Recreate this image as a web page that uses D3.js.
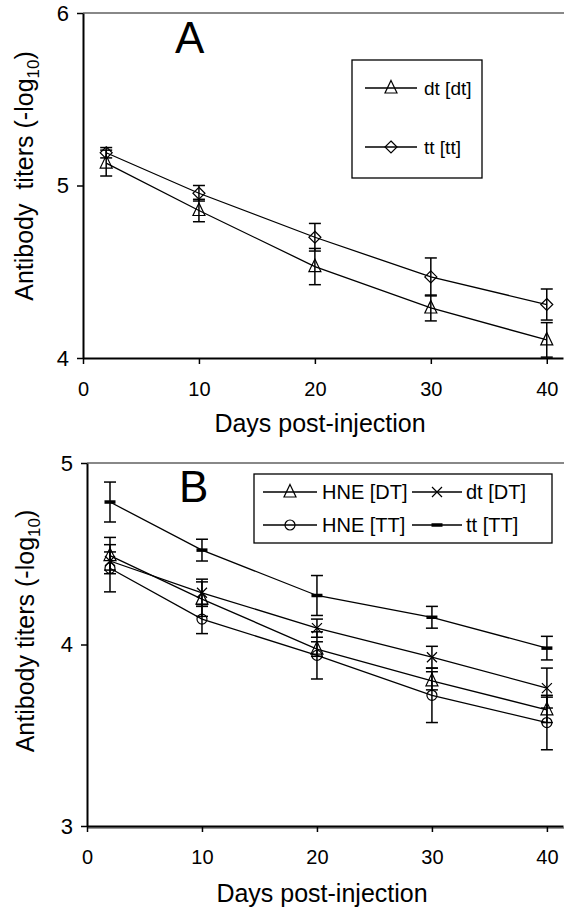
<!DOCTYPE html>
<html>
<head>
<meta charset="utf-8">
<script src="https://cdn.jsdelivr.net/npm/d3@7"></script>
<style>
  html, body { margin: 0; padding: 0; background: #fff; }
  svg { display: block; font-family: "Liberation Sans", Arial, sans-serif; }
</style>
</head>
<body>
<svg id="chart" width="564" height="914"></svg>
<script>
// Sampling days after injection
const days = [2, 10, 20, 30, 40];
const xTicks = [0, 10, 20, 30, 40];

// Panel A: antibody titers (-log10), mean and error
const dtDt = [5.13, 4.855, 4.53, 4.29, 4.105];
const dtDtErr = [0.075, 0.065, 0.105, 0.075, 0.10];
const ttTt = [5.19, 4.955, 4.70, 4.47, 4.31];
const ttTtErr = [0.03, 0.045, 0.08, 0.11, 0.09];
const yTicksA = [4, 5, 6];

// Panel B
const hneDT = [4.49, 4.25, 3.975, 3.80, 3.64];
const hneDTErr = [0.10, 0.095, 0.04, 0.05, 0.07];
const dtDT = [4.46, 4.285, 4.09, 3.93, 3.76];
const dtDTErr = [0.05, 0.075, 0.05, 0.06, 0.11];
const hneTT = [4.42, 4.14, 3.94, 3.72, 3.57];
const hneTTErr = [0.13, 0.08, 0.13, 0.15, 0.15];
const ttTT = [4.785, 4.52, 4.27, 4.15, 3.98];
const ttTTErr = [0.11, 0.06, 0.11, 0.06, 0.065];
const yTicksB = [3, 4, 5];

const svg = d3.select("#chart");

// Marker shapes, drawn around (0,0)
function drawMarker(g, type) {
  const s = g.append("g");
  if (type === "triangle") {
    s.append("path").attr("d", "M0,-7.5L6,5L-6,5Z")
      .attr("fill", "none").attr("stroke", "#000").attr("stroke-width", 1.2);
  } else if (type === "diamond") {
    s.append("path").attr("d", "M0,-6L6,0L0,6L-6,0Z")
      .attr("fill", "none").attr("stroke", "#000").attr("stroke-width", 1.2);
  } else if (type === "circle") {
    s.append("circle").attr("r", 5)
      .attr("fill", "none").attr("stroke", "#000").attr("stroke-width", 1.2);
  } else if (type === "cross") {
    s.append("path").attr("d", "M-5,-5L5,5M-5,5L5,-5")
      .attr("fill", "none").attr("stroke", "#000").attr("stroke-width", 1.2);
  } else if (type === "dash") {
    s.append("path").attr("d", "M-5.5,0L5.5,0")
      .attr("stroke", "#000").attr("stroke-width", 3.5);
  }
  return s;
}

function panel(cfg) {
  const x = d3.scaleLinear().domain([0, 41.4]).range([cfg.left, 563]);
  const y = d3.scaleLinear().domain(cfg.yDomain).range([cfg.bottom, cfg.top]);
  const g = svg.append("g");

  // plot area top border
  g.append("line").attr("x1", cfg.left).attr("x2", 564)
    .attr("y1", cfg.top).attr("y2", cfg.top)
    .attr("stroke", "#888").attr("stroke-width", 2);
  if (cfg.bottomBorder) {
    g.append("line").attr("x1", cfg.left).attr("x2", 564)
      .attr("y1", cfg.bottom + 2).attr("y2", cfg.bottom + 2)
      .attr("stroke", "#999").attr("stroke-width", 2);
  }

  // axes
  const xAxis = g.append("g").attr("transform", `translate(0,${cfg.bottom})`)
    .call(d3.axisBottom(x).tickValues(xTicks).tickSize(6).tickSizeOuter(0).tickPadding(18));
  xAxis.select(".domain").attr("stroke", "#000").attr("stroke-width", 2);
  xAxis.selectAll(".tick line").attr("stroke", "#000").attr("stroke-width", 1.5);
  xAxis.selectAll(".tick text").attr("font-size", 20).attr("fill", "#000")
    .attr("font-family", "Liberation Sans, Arial, sans-serif");

  const yAxis = g.append("g").attr("transform", `translate(${cfg.left},0)`)
    .call(d3.axisLeft(y).tickValues(cfg.yTicks).tickSize(6).tickSizeOuter(0).tickPadding(8)
      .tickFormat(d3.format("d")));
  yAxis.select(".domain").attr("stroke", "#000").attr("stroke-width", 2);
  yAxis.selectAll(".tick line").attr("stroke", "#000").attr("stroke-width", 1.5);
  yAxis.selectAll(".tick text").attr("font-size", 22).attr("fill", "#000")
    .attr("font-family", "Liberation Sans, Arial, sans-serif");

  // axis titles
  g.append("text").attr("x", (cfg.left + 563) / 2 - 3).attr("y", cfg.xTitleY)
    .attr("text-anchor", "middle").attr("font-size", 25).text("Days post-injection");

  const yt = g.append("text")
    .attr("transform", `translate(${cfg.yTitleX},${cfg.yTitleY}) rotate(-90)`)
    .attr("text-anchor", "middle").attr("font-size", 25)
    .attr("xml:space", "preserve");
  yt.append("tspan").text(cfg.yTitle);
  yt.append("tspan").attr("font-size", 17).attr("dy", 6).text("10");
  yt.append("tspan").attr("dy", -6).text(")");

  // panel letter
  g.append("text").attr("x", cfg.letterX).attr("y", cfg.letterY)
    .attr("font-size", 44).text(cfg.letter);

  // series
  const line = d3.line().x((d, i) => x(days[i])).y(d => y(d));
  cfg.series.forEach(s => {
    g.append("path").datum(s.values).attr("d", line)
      .attr("fill", "none").attr("stroke", "#000").attr("stroke-width", 1.3);
  });
  cfg.series.forEach(s => {
    s.values.forEach((v, i) => {
      const cx = x(days[i]);
      const e = s.err[i];
      const y0 = Math.min(y(v - e), cfg.bottom + 4);
      const y1 = y(v + e);
      g.append("line").attr("x1", cx).attr("x2", cx).attr("y1", y0).attr("y2", y1)
        .attr("stroke", "#000").attr("stroke-width", 1.5);
      g.append("line").attr("x1", cx - 6).attr("x2", cx + 6).attr("y1", y1).attr("y2", y1)
        .attr("stroke", "#000").attr("stroke-width", 1.5);
      if (y(v - e) <= cfg.bottom) {
        g.append("line").attr("x1", cx - 6).attr("x2", cx + 6).attr("y1", y0).attr("y2", y0)
          .attr("stroke", "#000").attr("stroke-width", 1.5);
      }
    });
  });
  cfg.series.forEach(s => {
    s.values.forEach((v, i) => {
      drawMarker(g, s.marker).attr("transform", `translate(${x(days[i])},${y(v)})`);
    });
  });

  // legend
  const L = cfg.legend;
  g.append("rect").attr("x", L.x).attr("y", L.y).attr("width", L.w).attr("height", L.h)
    .attr("fill", "#fff").attr("stroke", "#000").attr("stroke-width", 1.3);
  L.items.forEach(it => {
    const s = cfg.series[it.idx];
    g.append("line").attr("x1", it.x1).attr("x2", it.x2).attr("y1", it.y).attr("y2", it.y)
      .attr("stroke", "#000").attr("stroke-width", 1.3);
    drawMarker(g, s.marker).attr("transform", `translate(${(it.x1 + it.x2) / 2},${it.y})`);
    g.append("text").attr("x", it.tx).attr("y", it.y + 7).attr("font-size", L.fs).text(s.name);
  });
}

panel({
  left: 83, top: 13, bottom: 358, yDomain: [4, 6], yTicks: yTicksA,
  xTitleY: 432, yTitleX: 33, yTitleY: 176, yTitle: "Antibody  titers (-log",
  letter: "A", letterX: 175, letterY: 53,
  series: [
    { name: "dt [dt]", values: dtDt, err: dtDtErr, marker: "triangle" },
    { name: "tt [tt]", values: ttTt, err: ttTtErr, marker: "diamond" }
  ],
  legend: {
    x: 352, y: 60, w: 130, h: 118, fs: 19,
    items: [
      { idx: 0, x1: 365, x2: 417, y: 88, tx: 424 },
      { idx: 1, x1: 365, x2: 417, y: 147, tx: 424 }
    ]
  }
});

panel({
  left: 87, top: 463, bottom: 826, yDomain: [3, 5], yTicks: yTicksB, bottomBorder: true,
  xTitleY: 902, yTitleX: 34, yTitleY: 631, yTitle: "Antibody titers (-log",
  letter: "B", letterX: 179, letterY: 502,
  series: [
    { name: "HNE [DT]", values: hneDT, err: hneDTErr, marker: "triangle" },
    { name: "dt [DT]", values: dtDT, err: dtDTErr, marker: "cross" },
    { name: "HNE [TT]", values: hneTT, err: hneTTErr, marker: "circle" },
    { name: "tt [TT]", values: ttTT, err: ttTTErr, marker: "dash" }
  ],
  legend: {
    x: 254, y: 474, w: 298, h: 69, fs: 20,
    items: [
      { idx: 0, x1: 263, x2: 317, y: 492, tx: 322 },
      { idx: 1, x1: 412, x2: 462, y: 492, tx: 466 },
      { idx: 2, x1: 263, x2: 317, y: 525, tx: 322 },
      { idx: 3, x1: 412, x2: 462, y: 525, tx: 466 }
    ]
  }
});
</script>
</body>
</html>
